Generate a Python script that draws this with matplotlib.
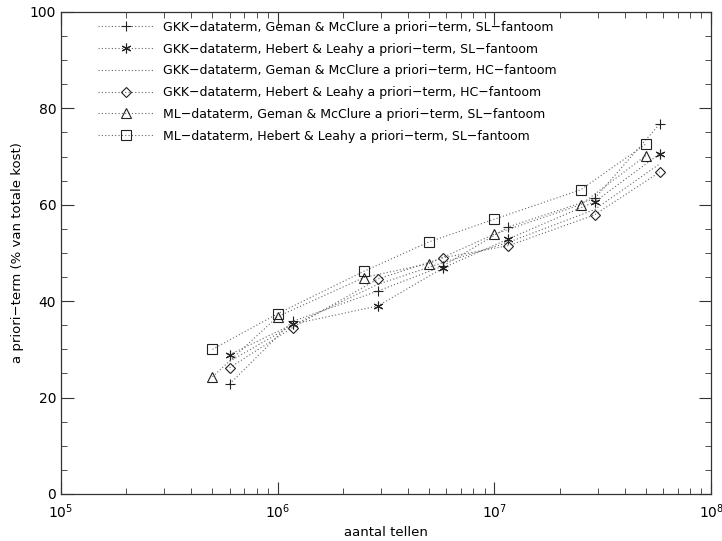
import matplotlib
matplotlib.use("Agg")
import matplotlib.pyplot as plt
from matplotlib.ticker import LogLocator, MultipleLocator, LogFormatterMathtext, NullFormatter

# Counts (aantal tellen) and prior-term share (% of total cost) for each configuration
labels = [
    "GKK\u2212dataterm, Geman & McClure a priori\u2212term, SL\u2212fantoom",
    "GKK\u2212dataterm, Hebert & Leahy a priori\u2212term, SL\u2212fantoom",
    "GKK\u2212dataterm, Geman & McClure a priori\u2212term, HC\u2212fantoom",
    "GKK\u2212dataterm, Hebert & Leahy a priori\u2212term, HC\u2212fantoom",
    "ML\u2212dataterm, Geman & McClure a priori\u2212term, SL\u2212fantoom",
    "ML\u2212dataterm, Hebert & Leahy a priori\u2212term, SL\u2212fantoom",
]

x_gkk = [6.0e5, 1.17e6, 2.9e6, 5.8e6, 1.16e7, 2.9e7, 5.8e7]
x_ml = [5.0e5, 1.0e6, 2.5e6, 5.0e6, 1.0e7, 2.5e7, 5.0e7]

gkk_gm_sl = [22.8, 35.8, 42.1, 47.3, 55.4, 61.3, 76.8]
gkk_hl_sl = [28.9, 35.2, 39.0, 46.9, 52.9, 60.6, 70.6]
gkk_gm_hc = [27.5, 35.0, 43.5, 48.0, 52.2, 59.0, 68.5]
gkk_hl_hc = [26.2, 34.5, 44.6, 49.0, 51.5, 57.9, 66.8]
ml_gm_sl = [24.3, 36.8, 44.9, 47.8, 53.9, 60.0, 70.2]
ml_hl_sl = [30.0, 37.4, 46.2, 52.3, 57.0, 63.1, 72.6]

series = [
    (x_gkk, gkk_gm_sl, "+"),
    (x_gkk, gkk_hl_sl, (6, 2, 0)),
    (x_gkk, gkk_gm_hc, None),
    (x_gkk, gkk_hl_hc, "D"),
    (x_ml, ml_gm_sl, "^"),
    (x_ml, ml_hl_sl, "s"),
]

plt.rcParams["font.family"] = ["DejaVu Sans"]

fig = plt.figure(figsize=(7.22, 5.41), dpi=100)
ax = fig.add_axes([0.0845, 0.087, 0.9005, 0.891])

for (xs, ys, mk), lab in zip(series, labels):
    size = {"+": 7, "D": 5, "^": 7, "s": 7}.get(mk, 7) if mk is not None else 0
    ax.plot(xs, ys, linestyle=(0, (1, 2)), linewidth=0.8, color="#666666",
            marker=mk if mk is not None else "",
            markersize=size, markerfacecolor="none", markeredgecolor="#222222",
            markeredgewidth=0.8, label=lab)

ax.set_xscale("log")
ax.set_xlim(1e5, 1e8)
ax.set_ylim(0, 100)

ax.xaxis.set_major_locator(LogLocator(base=10, numticks=10))
ax.xaxis.set_major_formatter(LogFormatterMathtext())
ax.xaxis.set_minor_locator(LogLocator(base=10, subs=range(2, 10), numticks=20))
ax.xaxis.set_minor_formatter(NullFormatter())
ax.yaxis.set_major_locator(MultipleLocator(20))
ax.yaxis.set_minor_locator(MultipleLocator(5))

ax.tick_params(which="both", direction="in", top=True, right=True,
               labelsize=10, color="#333333")
ax.tick_params(which="major", length=9, width=0.8)
ax.tick_params(which="minor", length=4, width=0.6)
ax.tick_params(axis="x", which="major", pad=6)

for sp in ax.spines.values():
    sp.set_linewidth(0.9)
    sp.set_color("#333333")

ax.set_xlabel("aantal tellen", fontsize=9.5)
ax.set_ylabel("a priori\u2212term (% van totale kost)", fontsize=9.5)

leg = ax.legend(loc="upper left", bbox_to_anchor=(0.049, 0.992), frameon=False,
                fontsize=9, handlelength=4.5, handletextpad=0.75,
                labelspacing=0.7, borderaxespad=0.0)

fig.savefig("out.png", dpi=100)
